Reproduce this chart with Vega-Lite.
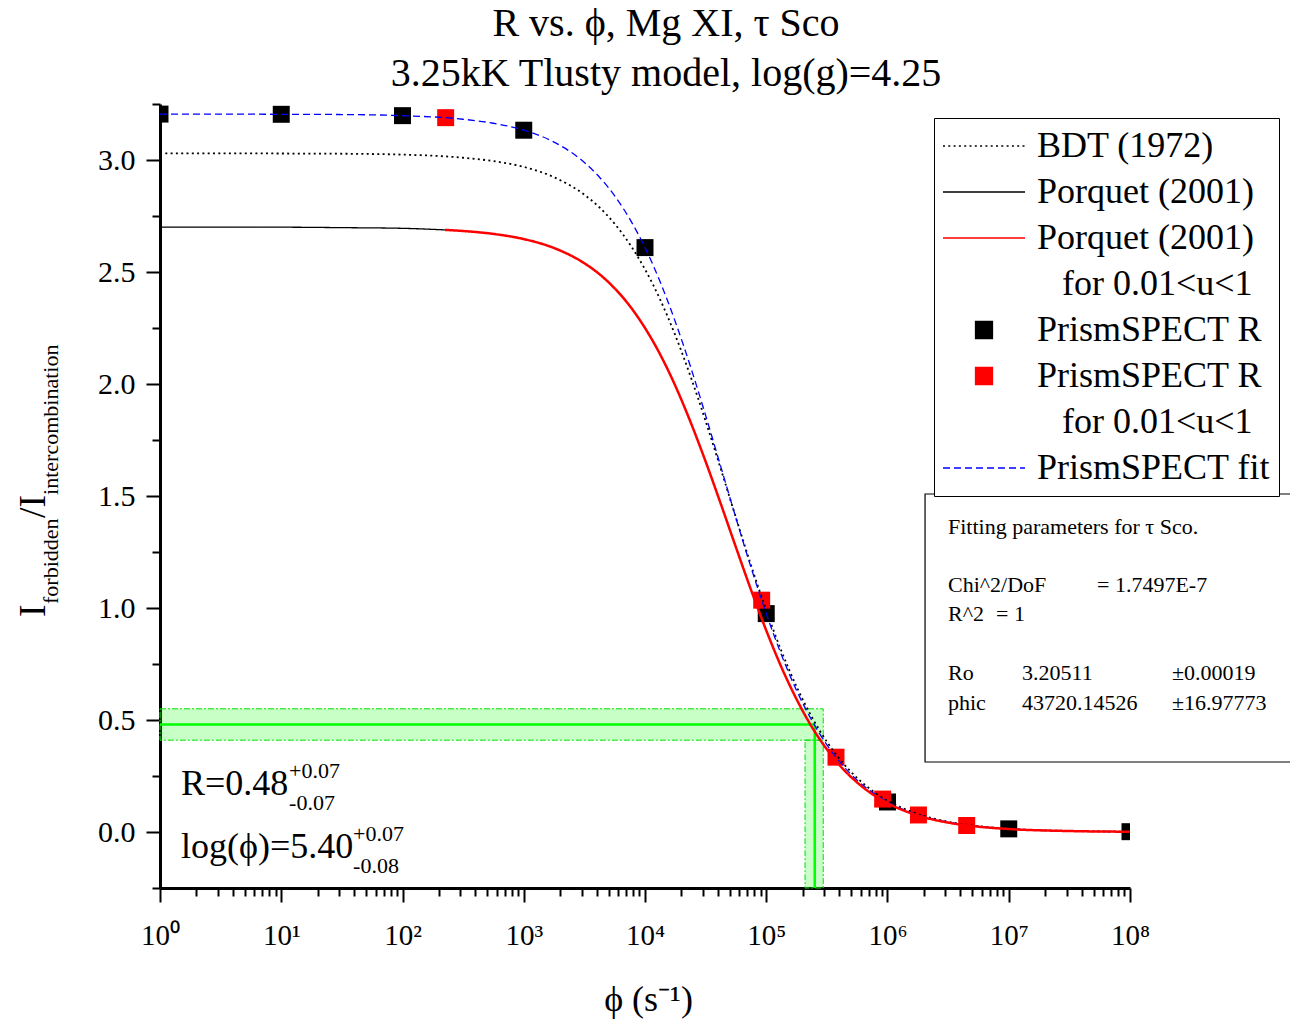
{
  "$schema": "https://vega.github.io/schema/vega-lite/v6.json",
  "width": 970,
  "height": 784,
  "autosize": {"type": "none"},
  "padding": {"left": 160, "top": 104, "right": 160, "bottom": 133},
  "background": "white",
  "config": {"view": {"stroke": null}, "font": "Liberation Serif"},
  "title": {
    "text": ["R vs. ϕ, Mg XI, τ Sco", "3.25kK Tlusty model, log(g)=4.25"],
    "font": "Liberation Serif", "fontSize": 40, "fontWeight": "normal", "color": "black",
    "anchor": "middle", "frame": "group", "dx": 21, "offset": 9, "lineHeight": 50
  },
  "datasets": {
    "bdt": [
      {"series": "BDT (1972)", "phi": 1, "R": 3.030}, {"series": "BDT (1972)", "phi": 3.162, "R": 3.030}, {"series": "BDT (1972)", "phi": 10, "R": 3.029}, {"series": "BDT (1972)", "phi": 31.62, "R": 3.028}, {"series": "BDT (1972)", "phi": 100, "R": 3.024}, {"series": "BDT (1972)", "phi": 316.2, "R": 3.010}, {"series": "BDT (1972)", "phi": 562.3, "R": 2.995}, {"series": "BDT (1972)", "phi": 1000, "R": 2.969}, {"series": "BDT (1972)", "phi": 1778, "R": 2.923}, {"series": "BDT (1972)", "phi": 3162, "R": 2.845}, {"series": "BDT (1972)", "phi": 4217, "R": 2.788}, {"series": "BDT (1972)", "phi": 5623, "R": 2.715}, {"series": "BDT (1972)", "phi": 7499, "R": 2.624}, {"series": "BDT (1972)", "phi": 10000, "R": 2.512}, {"series": "BDT (1972)", "phi": 13335, "R": 2.377}, {"series": "BDT (1972)", "phi": 17783, "R": 2.217}, {"series": "BDT (1972)", "phi": 23714, "R": 2.035}, {"series": "BDT (1972)", "phi": 31623, "R": 1.834}, {"series": "BDT (1972)", "phi": 42170, "R": 1.621}, {"series": "BDT (1972)", "phi": 56234, "R": 1.403}, {"series": "BDT (1972)", "phi": 74989, "R": 1.190}, {"series": "BDT (1972)", "phi": 100000, "R": 0.990}, {"series": "BDT (1972)", "phi": 133352, "R": 0.808}, {"series": "BDT (1972)", "phi": 177828, "R": 0.649}, {"series": "BDT (1972)", "phi": 237137, "R": 0.514}, {"series": "BDT (1972)", "phi": 316228, "R": 0.403}, {"series": "BDT (1972)", "phi": 421697, "R": 0.313}, {"series": "BDT (1972)", "phi": 562341, "R": 0.241}, {"series": "BDT (1972)", "phi": 749894, "R": 0.184}, {"series": "BDT (1972)", "phi": 1000000, "R": 0.140}, {"series": "BDT (1972)", "phi": 1778279, "R": 0.0804}, {"series": "BDT (1972)", "phi": 3162278, "R": 0.0458}, {"series": "BDT (1972)", "phi": 5623413, "R": 0.0259}, {"series": "BDT (1972)", "phi": 10000000, "R": 0.0146}, {"series": "BDT (1972)", "phi": 31622777, "R": 0.0046}, {"series": "BDT (1972)", "phi": 100000000, "R": 0.0015}
    ],
    "curves": [
      {"series": "Porquet (2001)", "phi": 1, "R": 2.700}, {"series": "Porquet (2001)", "phi": 3.162, "R": 2.700}, {"series": "Porquet (2001)", "phi": 10, "R": 2.700}, {"series": "Porquet (2001)", "phi": 31.62, "R": 2.698}, {"series": "Porquet (2001)", "phi": 100, "R": 2.695}, {"series": "Porquet (2001)", "phi": 223.9, "R": 2.688},
      {"series": "PrismSPECT fit", "phi": 1, "R": 3.205}, {"series": "PrismSPECT fit", "phi": 3.162, "R": 3.205}, {"series": "PrismSPECT fit", "phi": 10, "R": 3.204}, {"series": "PrismSPECT fit", "phi": 31.62, "R": 3.203}, {"series": "PrismSPECT fit", "phi": 100, "R": 3.198}, {"series": "PrismSPECT fit", "phi": 316.2, "R": 3.182}, {"series": "PrismSPECT fit", "phi": 562.3, "R": 3.164}, {"series": "PrismSPECT fit", "phi": 1000, "R": 3.133}, {"series": "PrismSPECT fit", "phi": 1778, "R": 3.080}, {"series": "PrismSPECT fit", "phi": 3162, "R": 2.989}, {"series": "PrismSPECT fit", "phi": 4217, "R": 2.923}, {"series": "PrismSPECT fit", "phi": 5623, "R": 2.840}, {"series": "PrismSPECT fit", "phi": 7499, "R": 2.736}, {"series": "PrismSPECT fit", "phi": 10000, "R": 2.609}, {"series": "PrismSPECT fit", "phi": 13335, "R": 2.456}, {"series": "PrismSPECT fit", "phi": 17783, "R": 2.278}, {"series": "PrismSPECT fit", "phi": 23714, "R": 2.078}, {"series": "PrismSPECT fit", "phi": 31623, "R": 1.860}, {"series": "PrismSPECT fit", "phi": 42170, "R": 1.631}, {"series": "PrismSPECT fit", "phi": 56234, "R": 1.402}, {"series": "PrismSPECT fit", "phi": 74989, "R": 1.180}, {"series": "PrismSPECT fit", "phi": 100000, "R": 0.975}, {"series": "PrismSPECT fit", "phi": 133352, "R": 0.791}, {"series": "PrismSPECT fit", "phi": 177828, "R": 0.632}, {"series": "PrismSPECT fit", "phi": 237137, "R": 0.499}, {"series": "PrismSPECT fit", "phi": 316228, "R": 0.389}, {"series": "PrismSPECT fit", "phi": 421697, "R": 0.301}, {"series": "PrismSPECT fit", "phi": 562341, "R": 0.231}, {"series": "PrismSPECT fit", "phi": 749894, "R": 0.177}, {"series": "PrismSPECT fit", "phi": 1000000, "R": 0.134}, {"series": "PrismSPECT fit", "phi": 1778279, "R": 0.0769}, {"series": "PrismSPECT fit", "phi": 3162278, "R": 0.0437}, {"series": "PrismSPECT fit", "phi": 5623413, "R": 0.0247}, {"series": "PrismSPECT fit", "phi": 10000000, "R": 0.0140}, {"series": "PrismSPECT fit", "phi": 31622777, "R": 0.0044}, {"series": "PrismSPECT fit", "phi": 100000000, "R": 0.0014}
    ],
    "porquetU": [
      {"series": "Porquet (2001) for 0.01<u<1", "phi": 223.9, "R": 2.688}, {"series": "Porquet (2001) for 0.01<u<1", "phi": 316.2, "R": 2.683}, {"series": "Porquet (2001) for 0.01<u<1", "phi": 562.3, "R": 2.670}, {"series": "Porquet (2001) for 0.01<u<1", "phi": 1000, "R": 2.647}, {"series": "Porquet (2001) for 0.01<u<1", "phi": 1778, "R": 2.607}, {"series": "Porquet (2001) for 0.01<u<1", "phi": 3162, "R": 2.539}, {"series": "Porquet (2001) for 0.01<u<1", "phi": 4217, "R": 2.490}, {"series": "Porquet (2001) for 0.01<u<1", "phi": 5623, "R": 2.427}, {"series": "Porquet (2001) for 0.01<u<1", "phi": 7499, "R": 2.348}, {"series": "Porquet (2001) for 0.01<u<1", "phi": 10000, "R": 2.250}, {"series": "Porquet (2001) for 0.01<u<1", "phi": 13335, "R": 2.132}, {"series": "Porquet (2001) for 0.01<u<1", "phi": 17783, "R": 1.992}, {"series": "Porquet (2001) for 0.01<u<1", "phi": 23714, "R": 1.831}, {"series": "Porquet (2001) for 0.01<u<1", "phi": 31623, "R": 1.654}, {"series": "Porquet (2001) for 0.01<u<1", "phi": 42170, "R": 1.465}, {"series": "Porquet (2001) for 0.01<u<1", "phi": 56234, "R": 1.271}, {"series": "Porquet (2001) for 0.01<u<1", "phi": 74989, "R": 1.080}, {"series": "Porquet (2001) for 0.01<u<1", "phi": 100000, "R": 0.900}, {"series": "Porquet (2001) for 0.01<u<1", "phi": 133352, "R": 0.736}, {"series": "Porquet (2001) for 0.01<u<1", "phi": 177828, "R": 0.593}, {"series": "Porquet (2001) for 0.01<u<1", "phi": 237137, "R": 0.470}, {"series": "Porquet (2001) for 0.01<u<1", "phi": 316228, "R": 0.369}, {"series": "Porquet (2001) for 0.01<u<1", "phi": 421697, "R": 0.286}, {"series": "Porquet (2001) for 0.01<u<1", "phi": 562341, "R": 0.221}, {"series": "Porquet (2001) for 0.01<u<1", "phi": 749894, "R": 0.169}, {"series": "Porquet (2001) for 0.01<u<1", "phi": 1000000, "R": 0.129}, {"series": "Porquet (2001) for 0.01<u<1", "phi": 1778279, "R": 0.0738}, {"series": "Porquet (2001) for 0.01<u<1", "phi": 3162278, "R": 0.0420}, {"series": "Porquet (2001) for 0.01<u<1", "phi": 5623413, "R": 0.0238}, {"series": "Porquet (2001) for 0.01<u<1", "phi": 10000000, "R": 0.0134}, {"series": "Porquet (2001) for 0.01<u<1", "phi": 31622777, "R": 0.0043}, {"series": "Porquet (2001) for 0.01<u<1", "phi": 100000000, "R": 0.0013}
    ],
    "points": [
      {"series": "PrismSPECT R", "phi": 1, "R": 3.205}, {"series": "PrismSPECT R", "phi": 10, "R": 3.204}, {"series": "PrismSPECT R", "phi": 100, "R": 3.198}, {"series": "PrismSPECT R", "phi": 1000, "R": 3.133}, {"series": "PrismSPECT R", "phi": 10000, "R": 2.609}, {"series": "PrismSPECT R", "phi": 100000, "R": 0.975}, {"series": "PrismSPECT R", "phi": 1000000, "R": 0.134}, {"series": "PrismSPECT R", "phi": 10000000, "R": 0.014}, {"series": "PrismSPECT R", "phi": 100000000, "R": 0.0014},
      {"series": "PrismSPECT R for 0.01<u<1", "phi": 227, "R": 3.189}, {"series": "PrismSPECT R for 0.01<u<1", "phi": 91700, "R": 1.035}, {"series": "PrismSPECT R for 0.01<u<1", "phi": 376000, "R": 0.334}, {"series": "PrismSPECT R for 0.01<u<1", "phi": 912000, "R": 0.147}, {"series": "PrismSPECT R for 0.01<u<1", "phi": 1800000, "R": 0.076}, {"series": "PrismSPECT R for 0.01<u<1", "phi": 4500000, "R": 0.029}
    ],
    "band": [
      {"R": 0.48, "Rlo": 0.41, "Rhi": 0.55, "Rmin": -0.25, "phi": 251189, "philo": 208930, "phihi": 295121, "phimin": 1}
    ]
  },
  "layer": [
    {
      "data": {"name": "band"},
      "mark": {"type": "rect", "fill": "#00ff00", "fillOpacity": 0.22, "stroke": "#00e000", "strokeWidth": 1, "strokeDash": [6, 2, 2, 2]},
      "encoding": {
        "x": {"field": "phimin", "type": "quantitative", "scale": {"type": "log", "domain": [1, 100000000]},
          "axis": {"orient": "bottom", "values": [1,2,3,4,5,6,7,8,9,10,20,30,40,50,60,70,80,90,100,200,300,400,500,600,700,800,900,1000,2000,3000,4000,5000,6000,7000,8000,9000,10000,20000,30000,40000,50000,60000,70000,80000,90000,100000,200000,300000,400000,500000,600000,700000,800000,900000,1000000,2000000,3000000,4000000,5000000,6000000,7000000,8000000,9000000,10000000,20000000,30000000,40000000,50000000,60000000,70000000,80000000,90000000,100000000],
            "labelExpr": "abs(log(datum.value)/LN10 - round(log(datum.value)/LN10)) < 0.001 ? '10' + ['⁰','¹','²','³','⁴','⁵','⁶','⁷','⁸'][round(log(datum.value)/LN10)] : ''",
            "labelFlush": false, "labelOverlap": false, "labelBound": false,
            "labelFont": "Liberation Serif", "labelFontSize": 29, "labelColor": "black", "labelBaseline": "alphabetic", "labelPadding": 42,
            "tickSize": {"condition": {"test": "abs(log(datum.value)/LN10 - round(log(datum.value)/LN10)) < 0.001", "value": 14}, "value": 8},
            "tickWidth": 2, "tickColor": "black", "domainWidth": 3, "domainColor": "black", "grid": false,
            "title": "ϕ (s⁻¹)", "titleFont": "Liberation Serif", "titleFontSize": 36, "titleFontWeight": "normal", "titleColor": "black",
            "titleX": 488, "titleY": 122, "titleBaseline": "alphabetic", "titleAlign": "center"}},
        "x2": {"field": "phihi"},
        "y": {"field": "Rlo", "type": "quantitative", "scale": {"domain": [-0.25, 3.25], "nice": false, "zero": false},
          "axis": {"orient": "left", "values": [-0.25, 0, 0.25, 0.5, 0.75, 1, 1.25, 1.5, 1.75, 2, 2.25, 2.5, 2.75, 3, 3.25],
            "labelExpr": "abs(datum.value*2 - round(datum.value*2)) < 0.001 ? format(datum.value, '.1f') : ''",
            "labelFont": "Liberation Serif", "labelFontSize": 30, "labelColor": "black", "labelPadding": 11,
            "tickSize": {"condition": {"test": "abs(datum.value*2 - round(datum.value*2)) < 0.001", "value": 14}, "value": 8},
            "tickWidth": 2, "tickColor": "black", "domainWidth": 3, "domainColor": "black", "grid": false, "title": null}},
        "y2": {"field": "Rhi"}
      }
    },
    {
      "data": {"name": "band"},
      "mark": {"type": "rect", "fill": "#00ff00", "fillOpacity": 0.22, "stroke": "#00e000", "strokeWidth": 1, "strokeDash": [6, 2, 2, 2]},
      "encoding": {
        "x": {"field": "philo", "type": "quantitative"},
        "x2": {"field": "phihi"},
        "y": {"field": "Rmin", "type": "quantitative"},
        "y2": {"field": "Rlo"}
      }
    },
    {
      "data": {"name": "band"},
      "mark": {"type": "rule", "color": "#00ff00", "strokeWidth": 2.5},
      "encoding": {
        "x": {"field": "phimin", "type": "quantitative"},
        "x2": {"field": "phi"},
        "y": {"field": "R", "type": "quantitative"}
      }
    },
    {
      "data": {"name": "band"},
      "mark": {"type": "rule", "color": "#00ff00", "strokeWidth": 2.5},
      "encoding": {
        "x": {"field": "phi", "type": "quantitative"},
        "y": {"field": "Rmin", "type": "quantitative"},
        "y2": {"field": "R"}
      }
    },
    {
      "data": {"name": "points"},
      "mark": {"type": "point", "filled": true, "size": 6724, "opacity": 1, "clip": true},
      "encoding": {
        "x": {"field": "phi", "type": "quantitative"},
        "y": {"field": "R", "type": "quantitative"},
        "fill": {"field": "series", "type": "nominal",
          "scale": {"domain": ["BDT (1972)", "Porquet (2001)", "Porquet (2001) for 0.01<u<1", "·1", "PrismSPECT R", "PrismSPECT R for 0.01<u<1", "·2", "PrismSPECT fit"], "range": ["transparent", "transparent", "transparent", "transparent", "black", "red", "transparent", "transparent"]}},
        "shape": {"field": "series", "type": "nominal",
          "scale": {"domain": ["BDT (1972)", "Porquet (2001)", "Porquet (2001) for 0.01<u<1", "·1", "PrismSPECT R", "PrismSPECT R for 0.01<u<1", "·2", "PrismSPECT fit"], "range": ["stroke", "stroke", "stroke", "stroke", "M-0.207,-0.207H0.207V0.207H-0.207Z", "M-0.207,-0.207H0.207V0.207H-0.207Z", "stroke", "stroke"]}}
      }
    },
    {
      "data": {"name": "bdt"},
      "mark": {"type": "line", "interpolate": "monotone", "strokeWidth": 1.8},
      "encoding": {
        "x": {"field": "phi", "type": "quantitative"},
        "y": {"field": "R", "type": "quantitative"},
        "stroke": {"field": "series", "type": "nominal"},
        "strokeDash": {"field": "series", "type": "nominal"}
      }
    },
    {
      "data": {"name": "curves"},
      "mark": {"type": "line", "interpolate": "monotone", "strokeWidth": 1.3},
      "encoding": {
        "x": {"field": "phi", "type": "quantitative"},
        "y": {"field": "R", "type": "quantitative"},
        "detail": {"field": "series"},
        "stroke": {
          "field": "series", "type": "nominal",
          "scale": {"domain": ["BDT (1972)", "Porquet (2001)", "Porquet (2001) for 0.01<u<1", "·1", "PrismSPECT R", "PrismSPECT R for 0.01<u<1", "·2", "PrismSPECT fit"], "range": ["black", "black", "red", "transparent", "black", "red", "transparent", "blue"]},
          "legend": {
            "orient": "none", "legendX": 774, "legendY": 14, "title": null,
            "padding": 8, "strokeColor": "black", "fillColor": "white",
            "labelFont": "Liberation Serif", "labelFontSize": 36, "labelColor": "black", "labelLimit": 0, "labelOffset": 11,
            "symbolSize": 6724, "symbolStrokeWidth": 1.3, "rowPadding": 6, "clipHeight": 40,
            "labelExpr": "indexof(datum.label, ' for ') > 0 ? replace(datum.label, ' for 0.01<u<1', '') : (datum.label == '·1' || datum.label == '·2') ? 'for 0.01<u<1' : datum.label",
            "encode": {
              "symbols": {"update": {"fill": {"scale": "fill", "field": "value"}, "opacity": {"value": 1}}},
              "labels": {"update": {"dx": {"signal": "datum.value == '·1' || datum.value == '·2' ? 25 : 0"}}}
            }
          }
        },
        "strokeDash": {"field": "series", "type": "nominal",
          "scale": {"domain": ["BDT (1972)", "Porquet (2001)", "Porquet (2001) for 0.01<u<1", "·1", "PrismSPECT R", "PrismSPECT R for 0.01<u<1", "·2", "PrismSPECT fit"], "range": [[2, 3.3], [1, 0], [1, 0], [1, 0], [1, 0], [1, 0], [1, 0], [7, 4]]}}
      }
    },
    {
      "data": {"name": "porquetU"},
      "mark": {"type": "line", "interpolate": "monotone", "strokeWidth": 2.5},
      "encoding": {
        "x": {"field": "phi", "type": "quantitative"},
        "y": {"field": "R", "type": "quantitative"},
        "stroke": {"field": "series", "type": "nominal"},
        "strokeDash": {"field": "series", "type": "nominal"}
      }
    },
    {
      "data": {"values": [{}]},
      "mark": {"type": "rect", "fill": "white", "stroke": "black", "strokeWidth": 1.2, "clip": false},
      "encoding": {
        "x": {"datum": 2040000, "type": "quantitative"},
        "x2": {"datum": 2300000000},
        "y": {"datum": 1.509, "type": "quantitative"},
        "y2": {"datum": 0.3125}
      }
    },
    {"data": {"values": [{}]}, "mark": {"type": "text", "text": "Fitting parameters for τ Sco.", "align": "left", "baseline": "middle", "fontSize": 22, "font": "Liberation Serif", "color": "black"}, "encoding": {"x": {"datum": 3155000, "type": "quantitative"}, "y": {"datum": 1.3616, "type": "quantitative"}}},
    {"data": {"values": [{}]}, "mark": {"type": "text", "text": "Chi^2/DoF", "align": "left", "baseline": "middle", "fontSize": 22, "font": "Liberation Serif", "color": "black"}, "encoding": {"x": {"datum": 3155000, "type": "quantitative"}, "y": {"datum": 1.1027, "type": "quantitative"}}},
    {"data": {"values": [{}]}, "mark": {"type": "text", "text": "= 1.7497E-7", "align": "left", "baseline": "middle", "fontSize": 22, "font": "Liberation Serif", "color": "black"}, "encoding": {"x": {"datum": 53460000, "type": "quantitative"}, "y": {"datum": 1.1027, "type": "quantitative"}}},
    {"data": {"values": [{}]}, "mark": {"type": "text", "text": "R^2", "align": "left", "baseline": "middle", "fontSize": 22, "font": "Liberation Serif", "color": "black"}, "encoding": {"x": {"datum": 3155000, "type": "quantitative"}, "y": {"datum": 0.9732, "type": "quantitative"}}},
    {"data": {"values": [{}]}, "mark": {"type": "text", "text": "=  1", "align": "left", "baseline": "middle", "fontSize": 22, "font": "Liberation Serif", "color": "black"}, "encoding": {"x": {"datum": 7850000, "type": "quantitative"}, "y": {"datum": 0.9732, "type": "quantitative"}}},
    {"data": {"values": [{}]}, "mark": {"type": "text", "text": "Ro", "align": "left", "baseline": "middle", "fontSize": 22, "font": "Liberation Serif", "color": "black"}, "encoding": {"x": {"datum": 3155000, "type": "quantitative"}, "y": {"datum": 0.7098, "type": "quantitative"}}},
    {"data": {"values": [{}]}, "mark": {"type": "text", "text": "3.20511", "align": "left", "baseline": "middle", "fontSize": 22, "font": "Liberation Serif", "color": "black"}, "encoding": {"x": {"datum": 12850000, "type": "quantitative"}, "y": {"datum": 0.7098, "type": "quantitative"}}},
    {"data": {"values": [{}]}, "mark": {"type": "text", "text": "±0.00019", "align": "left", "baseline": "middle", "fontSize": 22, "font": "Liberation Serif", "color": "black"}, "encoding": {"x": {"datum": 221800000, "type": "quantitative"}, "y": {"datum": 0.7098, "type": "quantitative"}}},
    {"data": {"values": [{}]}, "mark": {"type": "text", "text": "phic", "align": "left", "baseline": "middle", "fontSize": 22, "font": "Liberation Serif", "color": "black"}, "encoding": {"x": {"datum": 3155000, "type": "quantitative"}, "y": {"datum": 0.5759, "type": "quantitative"}}},
    {"data": {"values": [{}]}, "mark": {"type": "text", "text": "43720.14526", "align": "left", "baseline": "middle", "fontSize": 22, "font": "Liberation Serif", "color": "black"}, "encoding": {"x": {"datum": 12850000, "type": "quantitative"}, "y": {"datum": 0.5759, "type": "quantitative"}}},
    {"data": {"values": [{}]}, "mark": {"type": "text", "text": "±16.97773", "align": "left", "baseline": "middle", "fontSize": 22, "font": "Liberation Serif", "color": "black"}, "encoding": {"x": {"datum": 221800000, "type": "quantitative"}, "y": {"datum": 0.5759, "type": "quantitative"}}},
    {"data": {"values": [{}]}, "mark": {"type": "text", "text": "R=0.48", "align": "left", "baseline": "alphabetic", "fontSize": 36, "font": "Liberation Serif", "color": "black"}, "encoding": {"x": {"datum": 1.49, "type": "quantitative"}, "y": {"datum": 0.165, "type": "quantitative"}}},
    {"data": {"values": [{}]}, "mark": {"type": "text", "text": "+0.07", "align": "left", "baseline": "alphabetic", "fontSize": 22, "font": "Liberation Serif", "color": "black"}, "encoding": {"x": {"datum": 11.6, "type": "quantitative"}, "y": {"datum": 0.241, "type": "quantitative"}}},
    {"data": {"values": [{}]}, "mark": {"type": "text", "text": "-0.07", "align": "left", "baseline": "alphabetic", "fontSize": 22, "font": "Liberation Serif", "color": "black"}, "encoding": {"x": {"datum": 11.6, "type": "quantitative"}, "y": {"datum": 0.098, "type": "quantitative"}}},
    {"data": {"values": [{}]}, "mark": {"type": "text", "text": "log(ϕ)=5.40", "align": "left", "baseline": "alphabetic", "fontSize": 36, "font": "Liberation Serif", "color": "black"}, "encoding": {"x": {"datum": 1.49, "type": "quantitative"}, "y": {"datum": -0.116, "type": "quantitative"}}},
    {"data": {"values": [{}]}, "mark": {"type": "text", "text": "+0.07", "align": "left", "baseline": "alphabetic", "fontSize": 22, "font": "Liberation Serif", "color": "black"}, "encoding": {"x": {"datum": 39.1, "type": "quantitative"}, "y": {"datum": -0.04, "type": "quantitative"}}},
    {"data": {"values": [{}]}, "mark": {"type": "text", "text": "-0.08", "align": "left", "baseline": "alphabetic", "fontSize": 22, "font": "Liberation Serif", "color": "black"}, "encoding": {"x": {"datum": 39.1, "type": "quantitative"}, "y": {"datum": -0.183, "type": "quantitative"}}},
    {"data": {"values": [{}]}, "mark": {"type": "text", "text": "I", "angle": 270, "align": "left", "baseline": "alphabetic", "fontSize": 38, "font": "Liberation Serif", "color": "black"}, "encoding": {"x": {"datum": 0.1125, "type": "quantitative"}, "y": {"datum": 0.96, "type": "quantitative"}}},
    {"data": {"values": [{}]}, "mark": {"type": "text", "text": "forbidden", "angle": 270, "align": "left", "baseline": "alphabetic", "fontSize": 22, "font": "Liberation Serif", "color": "black"}, "encoding": {"x": {"datum": 0.1441, "type": "quantitative"}, "y": {"datum": 1.018, "type": "quantitative"}}},
    {"data": {"values": [{}]}, "mark": {"type": "text", "text": "/I", "angle": 270, "align": "left", "baseline": "alphabetic", "fontSize": 38, "font": "Liberation Serif", "color": "black"}, "encoding": {"x": {"datum": 0.1125, "type": "quantitative"}, "y": {"datum": 1.402, "type": "quantitative"}}},
    {"data": {"values": [{}]}, "mark": {"type": "text", "text": "intercombination", "angle": 270, "align": "left", "baseline": "alphabetic", "fontSize": 22, "font": "Liberation Serif", "color": "black"}, "encoding": {"x": {"datum": 0.1441, "type": "quantitative"}, "y": {"datum": 1.505, "type": "quantitative"}}}
  ]
}
